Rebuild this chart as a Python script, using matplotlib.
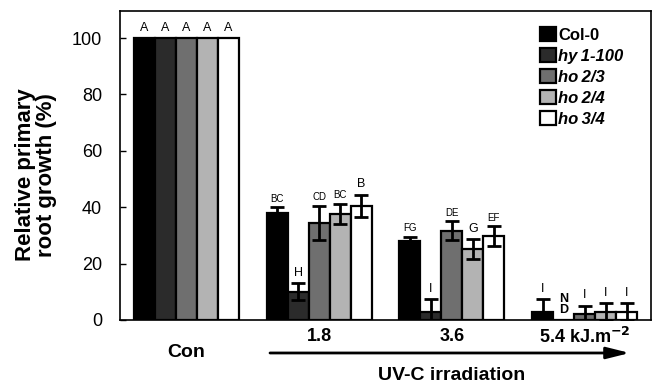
import numpy as np
import matplotlib
matplotlib.use("Agg")
import matplotlib.pyplot as plt

plt.rcParams["font.family"] = ["Liberation Sans", "DejaVu Sans"]

# --- data -----------------------------------------------------------------------
groups = ["Con", "1.8", "3.6", "5.4 kJ.m$^{\\mathbf{-2}}$"]
lines = ["Col-0", "hy\u20091-100", "ho\u20092/3", "ho\u20092/4", "ho\u20093/4"]
colors = ["#000000", "#2b2b2b", "#6f6f6f", "#b3b3b3", "#ffffff"]

# growth (%) per line, one value per group
col0 = [100, 38, 28, 3]
hy1 = [100, 10, 3, 0]
ho23 = [100, 34.5, 31.6, 2.1]
ho24 = [100, 37.6, 25.2, 2.9]
ho34 = [100, 40.5, 29.8, 2.9]

col0_err = [0, 2, 1.5, 4.3]
hy1_err = [0, 3, 4.5, 0]
ho23_err = [0, 6, 3.4, 3]
ho24_err = [0, 3.7, 3.4, 3]
ho34_err = [0, 4, 3.5, 3.2]

col0_sig = ["A", "BC", "FG", "I"]
hy1_sig = ["A", "H", "I", "N\nD"]
ho23_sig = ["A", "CD", "DE", "I"]
ho24_sig = ["A", "BC", "G", "I"]
ho34_sig = ["A", "B", "EF", "I"]

values = [col0, hy1, ho23, ho24, ho34]
errors = [col0_err, hy1_err, ho23_err, ho24_err, ho34_err]
letters = [col0_sig, hy1_sig, ho23_sig, ho24_sig, ho34_sig]

# --- figure --------------------------------------------------------------------
fig = plt.figure(figsize=(6.56, 3.84), dpi=100)
ax = fig.add_axes([120 / 656, 1 - 320 / 384, 531 / 656, 309 / 384])

x = np.arange(len(groups))
w = 0.158
handles = []
for i, (v, e, c) in enumerate(zip(values, errors, colors)):
    pos = x + (i - 2) * w
    b = ax.bar(pos, v, width=w, color=c, edgecolor="black", linewidth=1.6, label=lines[i], zorder=2)
    handles.append(b)
    for xp, vv, ee, lab in zip(pos, v, e, letters[i]):
        if ee > 0:
            ax.errorbar(xp, vv, yerr=ee, fmt="none", ecolor="black", elinewidth=2,
                        capsize=5, capthick=2, zorder=3)
        small = len(lab) == 2
        ax.text(xp, vv + ee + (1.2 if small else 1.5), lab, ha="center", va="bottom",
                fontsize=7 if small else 9, linespacing=0.9,
                fontweight="bold" if lab == "N\nD" else "normal", zorder=4)

ax.set_xlim(-0.5, 3.5)
ax.set_ylim(0, 109.6)
ax.set_yticks(np.arange(0, 101, 20))
ax.set_xticks([])
ax.tick_params(axis="y", direction="in", length=4.5, width=1, labelsize=13, pad=13)
for s in ax.spines.values():
    s.set_linewidth(1.2)

fig.text(36 / 656, 1 - 175 / 384, "Relative primary\nroot growth (%)", rotation=90,
         ha="center", va="center", fontsize=16, fontweight="bold", linespacing=1.0)

# group labels under the axis
ax.text(x[0], -11.7, groups[0], ha="center", va="center", fontsize=14, fontweight="bold")
for xi, g in zip(x[1:], groups[1:]):
    ax.text(xi, -6, g, ha="center", va="center", fontsize=13, fontweight="bold")

ax.annotate("", xy=(3.34, -11.7), xytext=(0.63, -11.7), xycoords="data",
            annotation_clip=False,
            arrowprops=dict(arrowstyle="-|>,head_length=1.4,head_width=0.35", color="black",
                            lw=2, shrinkA=0, shrinkB=0))
ax.text(2.0, -19.8, "UV-C irradiation", ha="center", va="center", fontsize=14,
        fontweight="bold")

leg = ax.legend(handles=handles, loc="upper left", bbox_to_anchor=(540 / 656, 1 - 27 / 384),
                bbox_transform=fig.transFigure, frameon=False,
                prop={"weight": "bold", "size": 12}, handlelength=0.95, handleheight=0.95,
                handletextpad=0.15, labelspacing=0.3, borderpad=0, borderaxespad=0)
for t in leg.get_texts()[1:]:
    t.set_fontstyle("italic")

fig.savefig("out.png", dpi=100)
